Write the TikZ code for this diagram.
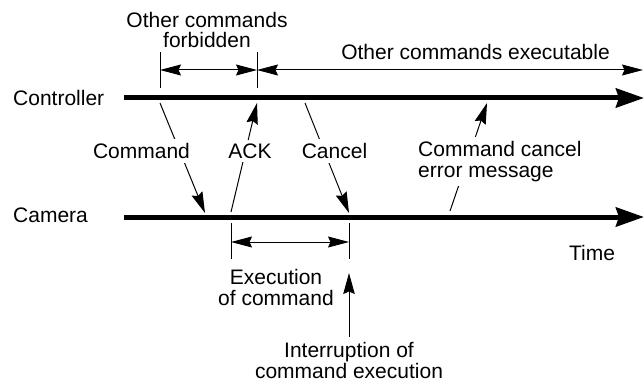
\documentclass[tikz,border=0pt]{standalone}
\usepackage{fontspec}
\setmainfont{Liberation Sans}
\usetikzlibrary{arrows.meta,positioning}

\tikzset{
  timeline/.style={line width=5pt,-{Stealth[length=28pt,width=19pt,inset=3pt]}},
  msg/.style={line width=1pt,-{Stealth[length=21pt,width=11.5pt,inset=2.5pt]}},
  interval/.style={line width=1pt,{Stealth[length=21pt,width=11pt,inset=2.5pt]}-{Stealth[length=21pt,width=11pt,inset=2.5pt]}},
  lbl/.style={font=\fontsize{21}{20.5}\selectfont,inner sep=1pt,align=center},
  cut/.style={lbl,fill=white,inner sep=4pt},
}

\begin{document}
\begin{tikzpicture}[x=1pt,y=-1pt]
\useasboundingbox (0,0) rectangle (644,385);
% time axes
\coordinate (ctrlS) at (124,98);
\coordinate (ctrlE) at (644,98);
\coordinate (camS) at (124,217);
\coordinate (camE) at (644,217);
\node[lbl,anchor=west] (ctrl) at (12,97.5) {Controller};
\node[lbl,anchor=west] (cam) at (12,215) {Camera};
\draw[timeline] (ctrlS) -- (ctrlE);
\draw[timeline] (camS) -- (camE);
\node[lbl] (time) at (592,252.5) {Time};
% tick marks
\foreach \n/\x/\y in {fa/160/52,fb/257/52,ra/231/223,rb/349/223}{
  \coordinate (\n1) at (\x,\y);
  \coordinate (\n2) at (\x,\y+36);
  \draw[line width=1pt] (\n1) -- (\n2);
}
% intervals
\coordinate (fbL) at (160,70);
\coordinate (fbR) at (257,70);
\coordinate (exR) at (643,70);
\coordinate (runL) at (231,242);
\coordinate (runR) at (349,242);
\draw[interval] (fbL) -- (fbR);
\draw[interval] (fbR) -- (exR);
\draw[interval] (runL) -- (runR);
\node[lbl] (forbid) at (207,30) {Other commands\\forbidden};
\node[lbl] (exec) at (475.5,51.5) {Other commands executable};
\node[lbl] (run) at (276,287.5) {Execution\\of command};
% messages
\coordinate (cmdA) at (160,103);
\coordinate (cmdB) at (205,213);
\coordinate (ackA) at (231,212);
\coordinate (ackB) at (257,103);
\coordinate (canA) at (305,103);
\coordinate (canB) at (349,213);
\coordinate (errA) at (450,211);
\coordinate (errB) at (487,103);
\draw[msg] (cmdA) -- (cmdB);
\draw[msg] (ackA) -- (ackB);
\draw[msg] (canA) -- (canB);
\draw[msg] (errA) -- (errB);
\node[cut] (cmd) at (141.5,151) {Command};
\node[cut] (ack) at (250,151) {ACK};
\node[cut] (can) at (334.5,151) {Cancel};
\node[cut,align=left,anchor=west] (err) at (414,161.5) {Command cancel\\error message};
% interruption
\coordinate (intA) at (349,337);
\coordinate (intB) at (349,273);
\draw[msg] (intA) -- (intB);
\node[lbl] (intr) at (349,360.5) {Interruption of\\command execution};
\end{tikzpicture}
\end{document}
